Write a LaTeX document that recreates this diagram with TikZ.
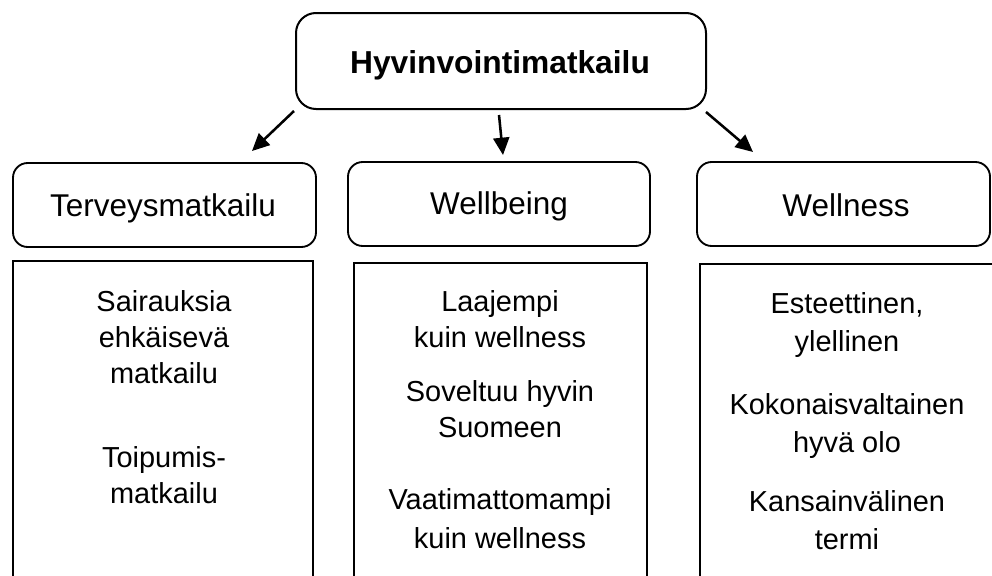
\documentclass[tikz,border=0pt]{standalone}
\usepackage{fontspec}
\setmainfont{Liberation Sans}
\usetikzlibrary{arrows.meta}

\tikzset{
  px/.style={x=0.75pt,y=-0.75pt},
  headbox/.style={draw,line width=1.5pt,rounded corners=15pt},
  catbox/.style={draw,line width=1.4pt,rounded corners=11pt},
  listbox/.style={draw,line width=1.5pt},
  title/.style={font=\fontsize{23.8}{28}\selectfont\bfseries,anchor=base,inner sep=0pt},
  cattext/.style={font=\fontsize{23.6}{28}\selectfont,anchor=base,inner sep=0pt},
  body/.style={font=\fontsize{21.7}{26}\selectfont,anchor=base,inner sep=0pt},
  link/.style={line width=1.9pt,-{Triangle[length=13pt,width=12pt]}}
}

\begin{document}
\begin{tikzpicture}[px]
\useasboundingbox (0,0) rectangle (992,575);
\begin{scope}
\clip (0,0) rectangle (992,575);

% top concept
\draw[headbox] (296,13) rectangle (706,109);
\node[title] (top) at (500,73) {Hyvinvointimatkailu};

% three categories
\draw[catbox] (13,163) rectangle (316,247);
\draw[catbox] (348,162) rectangle (650,246);
\draw[catbox] (697,162) rectangle (990,246);
\node[cattext] (terv) at (163,216) {Terveysmatkailu};
\node[cattext] (wbe) at (499,214) {Wellbeing};
\node[cattext] (wel) at (846,216) {Wellness};

% description boxes
\draw[listbox] (13,261) rectangle (313,620);
\draw[listbox] (354,263) rectangle (647,620);
\draw[listbox] (700,264) rectangle (1020,620);

% arrows from the top concept
\coordinate (a1s) at (294,111);
\coordinate (a1e) at (252,151);
\coordinate (a2s) at (499,115);
\coordinate (a2e) at (503,155);
\coordinate (a3s) at (706,112);
\coordinate (a3e) at (753,152);
\draw[link] (a1s) -- (a1e);
\draw[link] (a2s) -- (a2e);
\draw[link] (a3s) -- (a3e);

% left column
\node[body] (l1) at (164,311) {Sairauksia};
\node[body] (l2) at (164,347) {ehkäisevä};
\node[body] (l3) at (164,383) {matkailu};
\node[body] (l4) at (164,467) {Toipumis-};
\node[body] (l5) at (164,503) {matkailu};

% middle column
\node[body] (m1) at (500,311) {Laajempi};
\node[body] (m2) at (500,347) {kuin wellness};
\node[body] (m3) at (500,401) {Soveltuu hyvin};
\node[body] (m4) at (500,437) {Suomeen};
\node[body] (m5) at (500,509) {Vaatimattomampi};
\node[body] (m6) at (500,548) {kuin wellness};

% right column
\node[body] (r1) at (847,313) {Esteettinen,};
\node[body] (r2) at (847,351) {ylellinen};
\node[body] (r3) at (847,414) {Kokonaisvaltainen};
\node[body] (r4) at (847,452) {hyvä olo};
\node[body] (r5) at (847,511) {Kansainvälinen};
\node[body] (r6) at (847,549) {termi};
\end{scope}
\end{tikzpicture}
\end{document}
